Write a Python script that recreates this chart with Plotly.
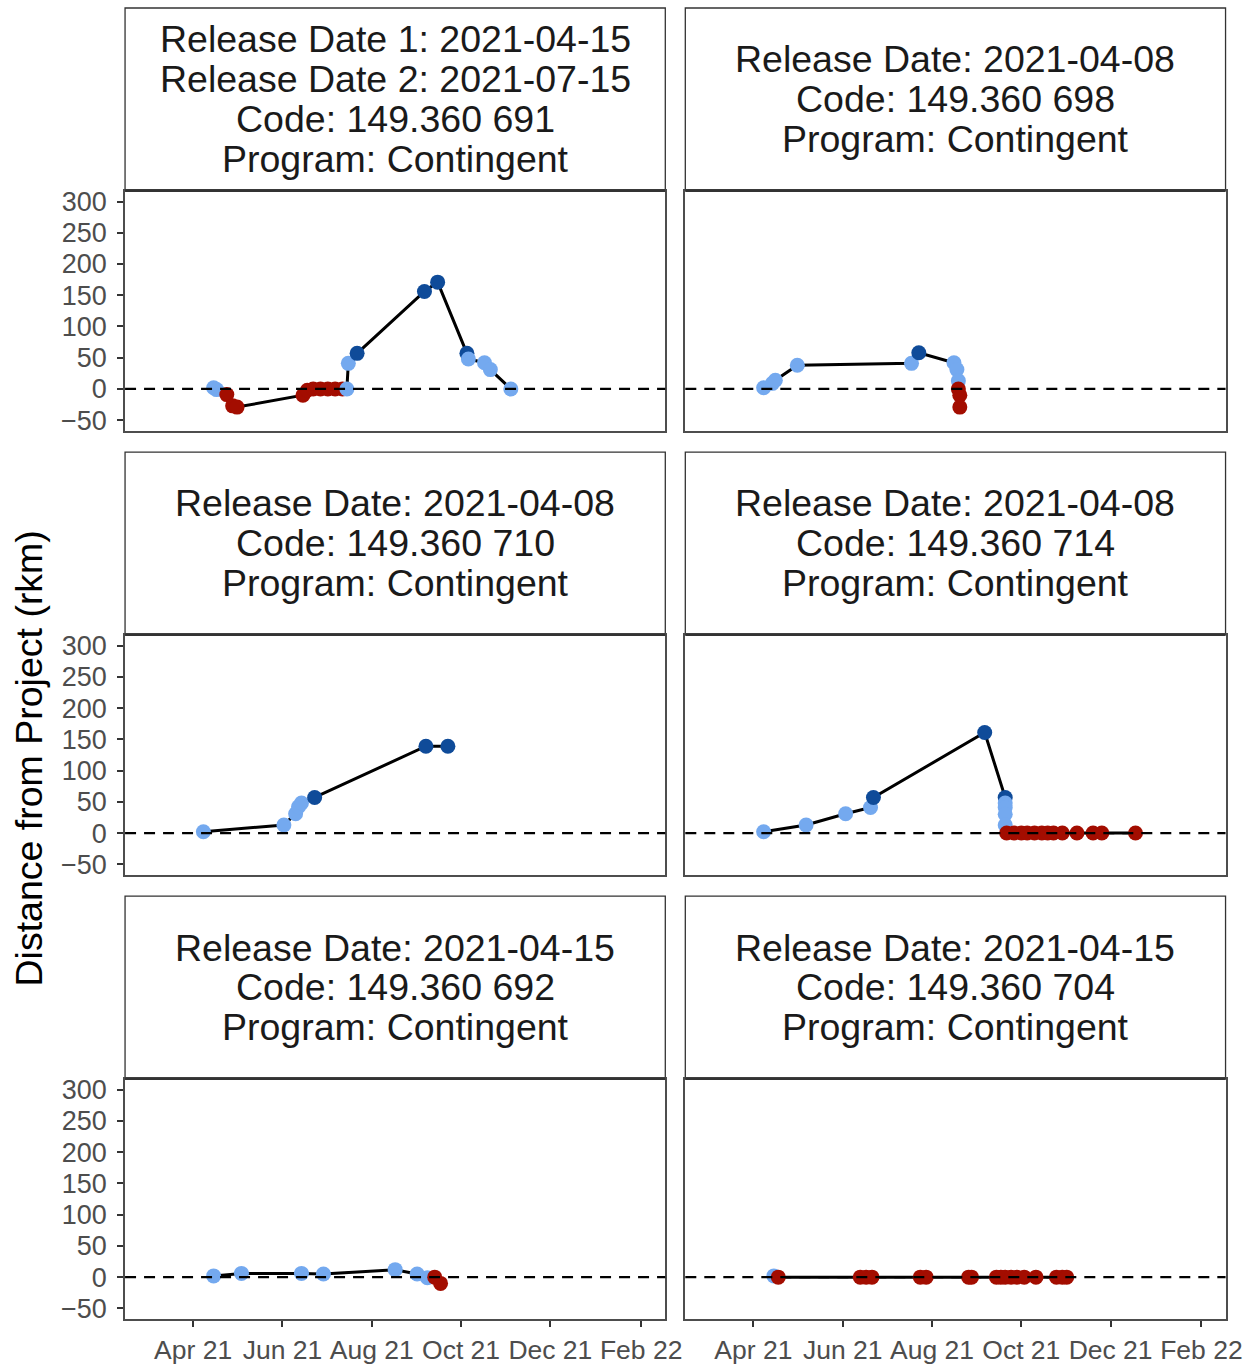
"""Faceted movement plot: distance from project over time for six tagged fish."""

import plotly.graph_objects as go
from plotly.subplots import make_subplots

# ---- data -----------------------------------------------------------------
# one set of arrays per tag; cat: L = light blue, D = dark blue, R = dark red

dates_691 = [
    "2021-04-15", "2021-04-17", "2021-04-24", "2021-04-28", "2021-05-01",
    "2021-06-15", "2021-06-18", "2021-06-22", "2021-06-27", "2021-07-02",
    "2021-07-07", "2021-07-12", "2021-07-15", "2021-07-16", "2021-07-22",
    "2021-09-06", "2021-09-15", "2021-10-05", "2021-10-06", "2021-10-17",
    "2021-10-21", "2021-11-04",
]
dist_691 = [2, -1, -9, -27, -29, -10, -2, 0, 0, 0, 0, 0, 0, 41, 57, 156, 171, 57, 48, 42, 31, 0]
cat_691 = ["L", "L", "R", "R", "R", "R", "R", "R", "R", "R", "R", "R",
           "L", "L", "D", "D", "D", "D", "L", "L", "L", "L"]

dates_698 = [
    "2021-04-08", "2021-04-14", "2021-04-16", "2021-05-01", "2021-07-18",
    "2021-07-23", "2021-08-16", "2021-08-18", "2021-08-19", "2021-08-19",
    "2021-08-20", "2021-08-20",
]
dist_698 = [2, 9, 14, 38, 41, 58, 42, 31, 13, 0, -10, -29]
cat_698 = ["L", "L", "L", "L", "L", "D", "L", "L", "L", "R", "R", "R"]

dates_710 = [
    "2021-04-08", "2021-06-02", "2021-06-10", "2021-06-12", "2021-06-14",
    "2021-06-23", "2021-09-07", "2021-09-22",
]
dist_710 = [2, 13, 31, 42, 48, 57, 139, 139]
cat_710 = ["L", "L", "L", "L", "L", "D", "D", "D"]

dates_714 = [
    "2021-04-08", "2021-05-07", "2021-06-03", "2021-06-20", "2021-06-22",
    "2021-09-06", "2021-09-20", "2021-09-20", "2021-09-20", "2021-09-20",
    "2021-09-20", "2021-09-21", "2021-09-26", "2021-10-01", "2021-10-05",
    "2021-10-10", "2021-10-15", "2021-10-19", "2021-10-23", "2021-10-29",
    "2021-11-08", "2021-11-19", "2021-11-25", "2021-12-18",
]
dist_714 = [2, 13, 31, 41, 57, 161, 57, 48, 41, 30, 13,
            0, 0, 0, 0, 0, 0, 0, 0, 0, 0, 0, 0, 0]
cat_714 = ["L", "L", "L", "L", "D", "D", "D", "L", "L", "L", "L",
           "R", "R", "R", "R", "R", "R", "R", "R", "R", "R", "R", "R", "R"]

dates_692 = [
    "2021-04-15", "2021-05-04", "2021-06-14", "2021-06-29", "2021-08-17",
    "2021-09-01", "2021-09-08", "2021-09-13", "2021-09-17",
]
dist_692 = [2, 6, 6, 5, 12, 5, -1, 0, -10]
cat_692 = ["L", "L", "L", "L", "L", "L", "L", "R", "R"]

dates_704 = [
    "2021-04-15", "2021-04-18", "2021-06-13", "2021-06-17", "2021-06-21",
    "2021-07-24", "2021-07-28", "2021-08-26", "2021-08-28", "2021-09-14",
    "2021-09-17", "2021-09-20", "2021-09-24", "2021-09-28", "2021-10-03",
    "2021-10-11", "2021-10-25", "2021-10-29", "2021-11-01",
]
dist_704 = [2] + [0] * 18
cat_704 = ["L"] + ["R"] * 18

strip_691 = ["Release Date 1: 2021-04-15", "Release Date 2: 2021-07-15",
             "Code: 149.360 691", "Program: Contingent"]
strip_698 = ["Release Date: 2021-04-08", "Code: 149.360 698", "Program: Contingent"]
strip_710 = ["Release Date: 2021-04-08", "Code: 149.360 710", "Program: Contingent"]
strip_714 = ["Release Date: 2021-04-08", "Code: 149.360 714", "Program: Contingent"]
strip_692 = ["Release Date: 2021-04-15", "Code: 149.360 692", "Program: Contingent"]
strip_704 = ["Release Date: 2021-04-15", "Code: 149.360 704", "Program: Contingent"]

x_tick_dates = ["2021-04-01", "2021-06-01", "2021-08-01", "2021-10-01", "2021-12-01", "2022-02-01"]
x_tick_labels = ["Apr 21", "Jun 21", "Aug 21", "Oct 21", "Dec 21", "Feb 22"]
y_tick_values = [-50, 0, 50, 100, 150, 200, 250, 300]

# ---- styling --------------------------------------------------------------
W, H = 1254, 1365
FONT = "Liberation Sans, Arial, sans-serif"
CAT_COLORS = {"L": "#74A9EF", "D": "#0F4B99", "R": "#A30D00"}

# target positions (screen pixels) of the panel boxes
COL_PX = [(125, 665), (685, 1225)]
ROW_PLOT_PX = [(191, 432), (636, 877), (1081, 1322)]
ROW_STRIP_PX = [(8, 191), (453, 636), (898, 1081)]
LINE_GAP = 40
# the captured page comes out slightly shrunk; undo that here
SX, SY, OY = 0.986, 0.9925, 4.0

panels = [
    (dates_691, dist_691, cat_691, strip_691),
    (dates_698, dist_698, cat_698, strip_698),
    (dates_710, dist_710, cat_710, strip_710),
    (dates_714, dist_714, cat_714, strip_714),
    (dates_692, dist_692, cat_692, strip_692),
    (dates_704, dist_704, cat_704, strip_704),
]


def px_x(x):
    return min(1.0, (x / SX) / W)


def px_y(y):
    return max(0.0, (H - (y - OY) / SY) / H)


fig = make_subplots(rows=3, cols=2)

for i, (dates, dist, cats, strip) in enumerate(panels):
    row, col = i // 2 + 1, i % 2 + 1
    fig.add_trace(
        go.Scatter(
            x=dates,
            y=dist,
            mode="lines",
            line={"color": "black", "width": 3},
            showlegend=False,
            hoverinfo="skip",
        ),
        row=row,
        col=col,
    )
    fig.add_trace(
        go.Scatter(
            x=dates,
            y=dist,
            mode="markers",
            marker={"size": 15, "color": [CAT_COLORS[c] for c in cats], "line": {"width": 0}},
            showlegend=False,
            hovertemplate="%{x|%Y-%m-%d}<br>%{y} rkm<extra></extra>",
        ),
        row=row,
        col=col,
    )
    fig.add_hline(
        y=0, row=row, col=col,
        line={"color": "black", "width": 2.2, "dash": "11px,8px"},
    )

    x0, x1 = COL_PX[col - 1]
    st, sb = ROW_STRIP_PX[row - 1]
    fig.add_shape(
        type="rect", xref="paper", yref="paper",
        x0=px_x(x0), x1=px_x(x1), y0=px_y(sb), y1=px_y(st),
        line={"color": "#333333", "width": 1.3}, fillcolor="white", layer="below",
    )
    fig.add_shape(
        type="line", xref="paper", yref="paper",
        x0=px_x(x0), x1=px_x(x1), y0=px_y(sb), y1=px_y(sb),
        line={"color": "#333333", "width": 2.6},
    )
    centre = (st + sb) / 2
    n = len(strip)
    for k, text in enumerate(strip):
        yc = centre + (k - (n - 1) / 2) * LINE_GAP
        fig.add_annotation(
            xref="paper", yref="paper",
            x=px_x((x0 + x1) / 2), y=px_y(yc),
            text=text, showarrow=False,
            xanchor="center", yanchor="middle",
            font={"family": FONT, "size": 37.5, "color": "#1A1A1A"},
        )

    pt, pb = ROW_PLOT_PX[row - 1]
    fig.update_xaxes(
        domain=[px_x(x0), px_x(x1)],
        range=["2021-02-13 12:00", "2022-02-17 12:00"],
        tickmode="array",
        tickvals=x_tick_dates,
        ticktext=x_tick_labels,
        ticks="outside" if row == 3 else "",
        showticklabels=row == 3,
        ticklen=6, tickwidth=2, tickcolor="#333333",
        tickfont={"family": FONT, "size": 26.5, "color": "#4D4D4D"},
        showline=True, mirror=True, linecolor="#4D4D4D", linewidth=1.6,
        showgrid=False, zeroline=False,
        row=row, col=col,
    )
    fig.update_yaxes(
        domain=[px_y(pb), px_y(pt)],
        range=[-67.5, 317.5],
        tickmode="array",
        tickvals=y_tick_values,
        ticks="outside" if col == 1 else "",
        showticklabels=col == 1,
        ticklen=6, tickwidth=2, tickcolor="#333333",
        ticklabelstandoff=5,
        tickfont={"family": FONT, "size": 27, "color": "#4D4D4D"},
        showline=True, mirror=True, linecolor="#4D4D4D", linewidth=1.6,
        showgrid=False, zeroline=False,
        row=row, col=col,
    )

fig.add_annotation(
    xref="paper", yref="paper",
    x=px_x(29), y=px_y(760),
    text="Distance from Project (rkm)",
    textangle=-90, showarrow=False,
    xanchor="center", yanchor="middle",
    font={"family": FONT, "size": 37.5, "color": "black"},
)

fig.update_layout(
    width=W,
    height=H,
    margin={"l": 0, "r": 0, "t": 0, "b": 0},
    plot_bgcolor="white",
    paper_bgcolor="white",
    showlegend=False,
)

# drop the default page margin so the figure sits flush in the window
page_reset = (
    "document.body.style.margin='0';"
    "document.body.style.overflow='hidden';"
    "document.documentElement.style.overflow='hidden';"
)
fig.write_html("out.html", post_script=page_reset, config={"displayModeBar": False})
